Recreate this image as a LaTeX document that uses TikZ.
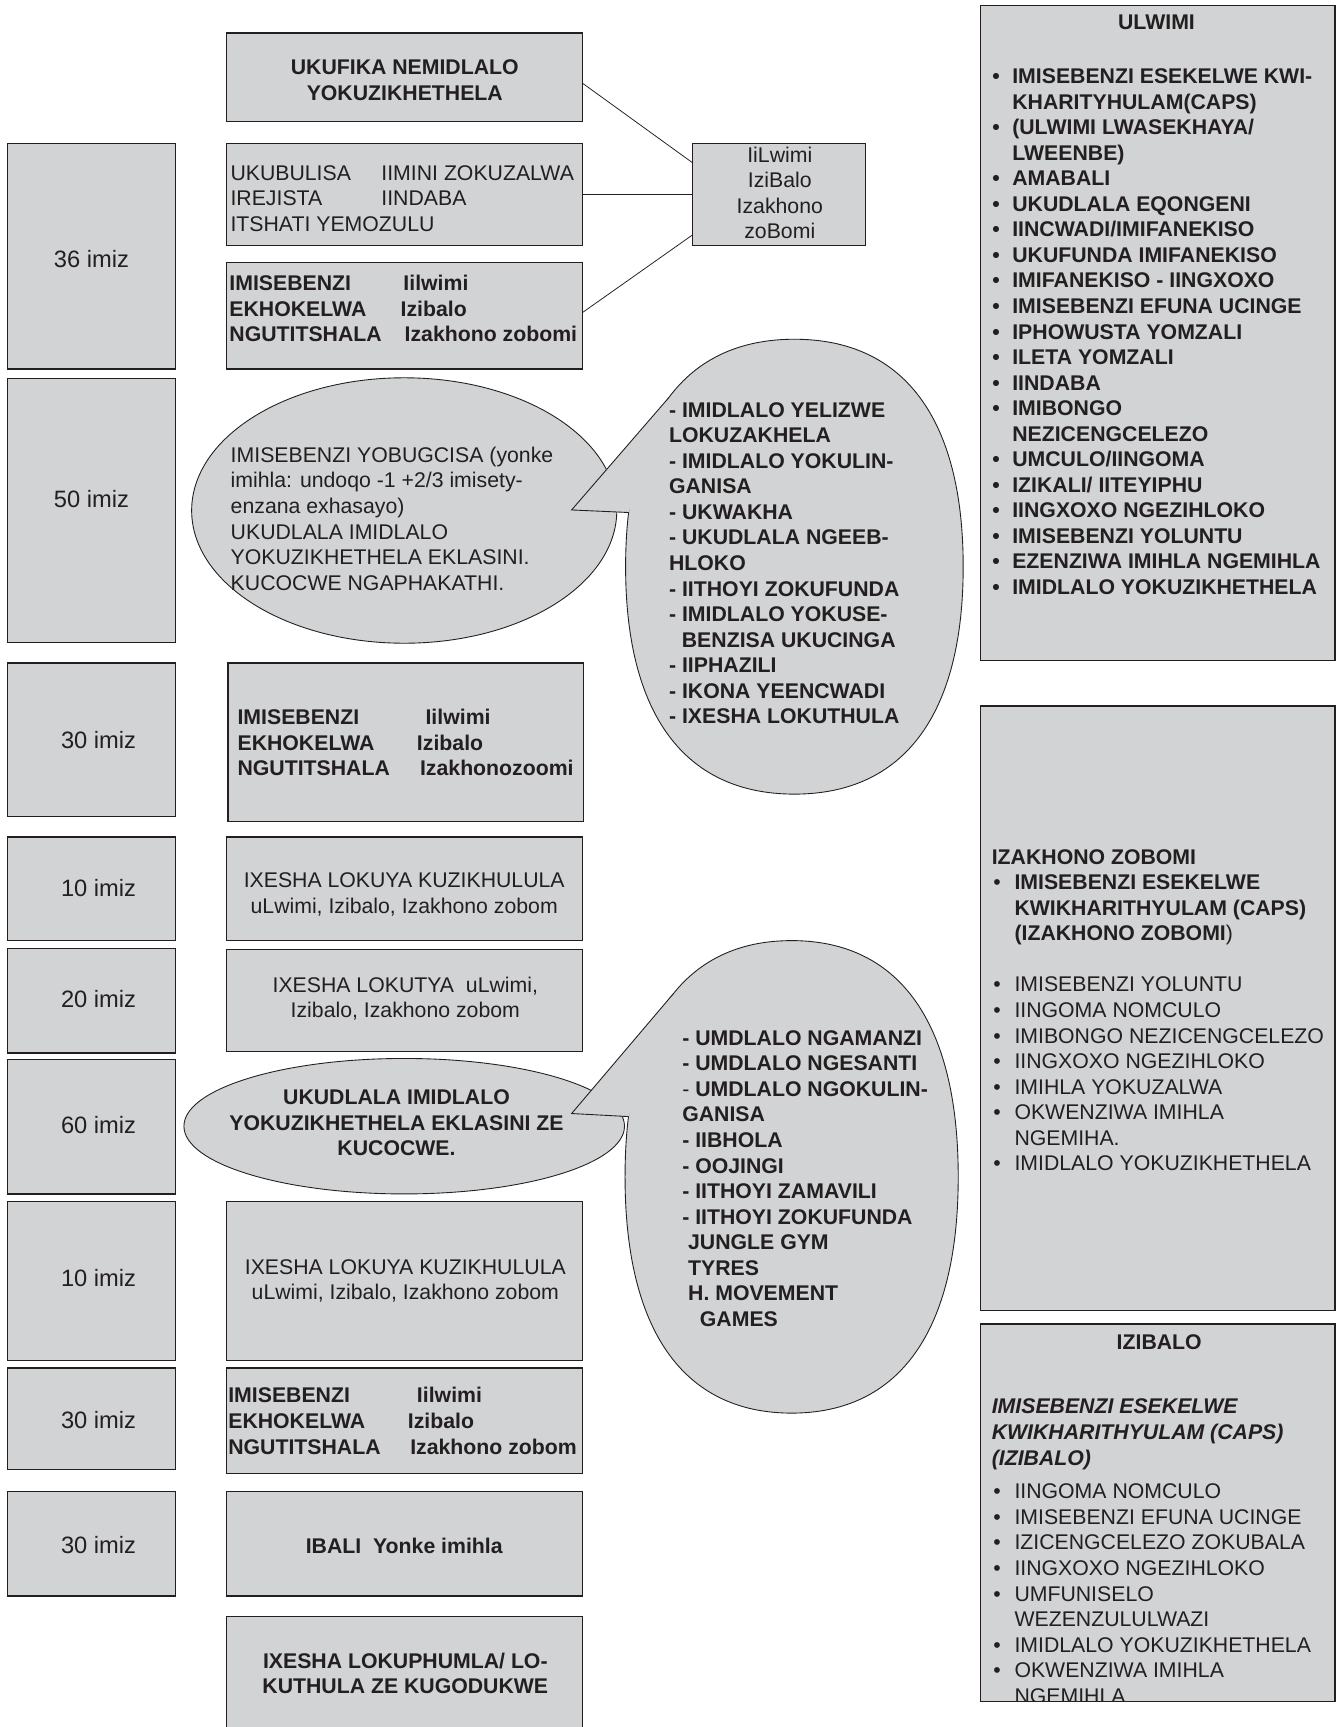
\documentclass[tikz,border=0pt]{standalone}
\usepackage{fontspec}
\setmainfont{Liberation Sans}
\usetikzlibrary{shapes.geometric}
\definecolor{boxgray}{RGB}{209,211,212}
\definecolor{ink}{RGB}{35,31,32}
\newcommand\fs{\fontsize{19.3pt}{23.2pt}\selectfont}
\newcommand\fl{\fontsize{21.5pt}{25pt}\selectfont}
\newcommand\Ltab[1]{\begin{tabular}[t]{@{}l@{}}#1\end{tabular}}
\newcommand\Ctab[1]{\begin{tabular}[t]{@{}c@{}}#1\end{tabular}}
\newcommand\Btab[2]{\begin{tabular}[t]{@{}l@{\hspace{#1}}l@{}}#2\end{tabular}}
\begin{document}
\begin{tikzpicture}[x=1pt,y=-1pt,
 box/.style={rectangle, draw=ink, line width=1.1pt, fill=boxgray, inner sep=0pt, outer sep=0pt},
 oval/.style={ellipse, draw=ink, line width=0.8pt, fill=boxgray, inner sep=0pt, outer sep=0pt},
 bub/.style={draw=ink, line width=0.8pt, fill=boxgray},
 tailedge/.style={draw=ink, line width=0.8pt, line join=miter},
 conn/.style={draw=ink, line width=0.7pt},
 txt/.style={inner sep=0pt, outer sep=0pt, text=ink, font=\fs},
 btxt/.style={txt, font=\fs\bfseries},
 ltxt/.style={txt, font=\fl, anchor=base},
]
\useasboundingbox (0,0) rectangle (1216,1568);
\fill[white] (0,0) rectangle (1216,1568);

% ---------- left column: time boxes
\node[box, minimum width=152pt, minimum height=205pt] (t36)  at (83,232.5) {};
\node[box, minimum width=152pt, minimum height=239pt] (t50)  at (83,463.5) {};
\node[box, minimum width=152pt, minimum height=139pt] (t30a) at (83,671.5) {};
\node[box, minimum width=152pt, minimum height=94pt]  (t10a) at (83,807) {};
\node[box, minimum width=152pt, minimum height=95pt]  (t20)  at (83,908.5) {};
\node[box, minimum width=152pt, minimum height=122pt] (t60)  at (83,1023) {};
\node[box, minimum width=152pt, minimum height=144pt] (t10b) at (83,1163) {};
\node[box, minimum width=152pt, minimum height=92pt]  (t30b) at (83,1288) {};
\node[box, minimum width=152pt, minimum height=95pt]  (t30c) at (83,1401.5) {};

\node[ltxt] (l36)  at (83,243.2)   {36 imiz};
\node[ltxt] (l50)  at (83,460.7)   {50 imiz};
\node[ltxt] (l30a) at (89.5,679.7) {30 imiz};
\node[ltxt] (l10a) at (89.5,813.7) {10 imiz};
\node[ltxt] (l20)  at (89.5,914.7) {20 imiz};
\node[ltxt] (l60)  at (89.5,1028.7){60 imiz};
\node[ltxt] (l10b) at (89.5,1167.7){10 imiz};
\node[ltxt] (l30b) at (89.5,1296.7){30 imiz};
\node[ltxt] (l30c) at (89.5,1410.7){30 imiz};

% ---------- middle column boxes
\node[box, minimum width=323pt, minimum height=80pt]  (ukufika) at (367.5,70) {};
\node[box, minimum width=323pt, minimum height=93pt]  (bulisa)  at (367.5,176.5) {};
\node[box, minimum width=323pt, minimum height=97pt]  (imis1)   at (367.5,286.5) {};
\node[box, minimum width=323pt, minimum height=144pt] (imis2)   at (368.5,674) {};
\node[box, minimum width=323pt, minimum height=94pt]  (khul1)   at (367.5,807) {};
\node[box, minimum width=323pt, minimum height=93pt]  (kutya)   at (367.5,908.5) {};
\node[box, minimum width=323pt, minimum height=144pt] (khul2)   at (367.5,1163) {};
\node[box, minimum width=323pt, minimum height=96pt]  (imis3)   at (367.5,1290) {};
\node[box, minimum width=323pt, minimum height=95pt]  (ibali)   at (367.5,1401.5) {};
\node[box, minimum width=323pt, minimum height=122pt] (phumla)  at (367.5,1529) {};

% small subject box
\node[box, minimum width=157pt, minimum height=93pt] (lang) at (707.5,176.5) {};

% connectors
\draw[conn] (ukufika.-2.5) -- (lang.160.7);
\draw[conn] (bulisa.east) -- (lang.west);
\draw[conn] (imis1.1.5) -- (lang.205.2);

% ---------- right column boxes
\node[box, minimum width=322pt, minimum height=595pt] (ulwimi)  at (1051,302.5) {};
\node[box, minimum width=322pt, minimum height=549pt] (zakhono) at (1051,915.5) {};
\node[box, minimum width=322pt, minimum height=343pt] (zibalo)  at (1051,1373.5) {};

% ---------- ellipse 1 and speech bubble 1
\node[oval, minimum width=386pt, minimum height=241pt] (ell1) at (367,463.5) {};
\coordinate (b1tip) at (519,463);
\path[bub] (721.25,308) .. controls (621.65,308) and (568,380.3) ..
    coordinate[pos=0.5] (b1A) coordinate[pos=0.87] (b1B) (568,514.5)
  .. controls (568,648.7) and (621.65,721) .. (721.25,721)
  .. controls (820.85,721) and (874.5,648.7) .. (874.5,514.5)
  .. controls (874.5,380.3) and (820.85,308) .. (721.25,308) -- cycle;
\fill[boxgray] (b1tip) -- (b1A) -- (b1B) -- cycle;
\draw[tailedge] (b1A) -- (b1tip) -- (b1B);

% ---------- ellipse 2 and speech bubble 2
\node[oval, minimum width=400pt, minimum height=123pt] (ell2) at (367,1022.5) {};
\coordinate (b2tip) at (519,1011);
\path[bub] (718.75,854) .. controls (620.45,854) and (567.5,929.1) ..
    coordinate[pos=0.47] (b2A) coordinate[pos=0.86] (b2B) (567.5,1068.5)
  .. controls (567.5,1207.9) and (620.45,1283) .. (718.75,1283)
  .. controls (817.05,1283) and (870,1207.9) .. (870,1068.5)
  .. controls (870,929.1) and (817.05,854) .. (718.75,854) -- cycle;
\fill[boxgray] (b2tip) -- (b2A) -- (b2B) -- cycle;
\draw[tailedge] (b2A) -- (b2tip) -- (b2B);

% ---------- middle texts
\node[btxt, anchor=base] (ukufikaT) at (367.5,67.8) {\Ctab{UKUFIKA NEMIDLALO\\YOKUZIKHETHELA}};

\node[txt, anchor=base west] (bulisaA) at (209.3,163.8) {\Ltab{UKUBULISA\\IREJISTA\\ITSHATI YEMOZULU}};
\node[txt, anchor=base west] (bulisaB) at (346.3,163.8) {\Ltab{IIMINI ZOKUZALWA\\IINDABA}};

\node[btxt, anchor=base west] (imis1A) at (208.3,263.8) {\Ltab{IMISEBENZI\\EKHOKELWA\\NGUTITSHALA}};
\node[btxt, anchor=base west] (imis1B) at (366.3,263.8) {Iilwimi};
\node[btxt, anchor=base west] (imis1C) at (363.8,287) {Izibalo};
\node[btxt, anchor=base west] (imis1D) at (367.4,310.2) {Izakhono zobomi};

\node[txt, anchor=base] (langT) at (708,147.3) {\Ctab{IiLwimi\\IziBalo\\Izakhono\\zoBomi}};

\node[txt, anchor=base west] (ell1T) at (209.5,419.8) {\Ltab{IMISEBENZI YOBUGCISA (yonke\\imihla: undoqo -1 +2/3 imisety-\\enzana exhasayo)\\UKUDLALA IMIDLALO\\YOKUZIKHETHELA EKLASINI.\\KUCOCWE NGAPHAKATHI.}};

\node[btxt, anchor=base west] (imis2A) at (215.7,657.8) {\Ltab{IMISEBENZI\\EKHOKELWA\\NGUTITSHALA}};
\node[btxt, anchor=base west] (imis2B) at (386.4,657.8) {Iilwimi};
\node[btxt, anchor=base west] (imis2C) at (378.6,681) {Izibalo};
\node[btxt, anchor=base west] (imis2D) at (381.4,704.2) {Izakhonozoomi};

\node[txt, anchor=base] (khul1T) at (367,805.8) {\Ctab{IXESHA LOKUYA KUZIKHULULA\\uLwimi, Izibalo, Izakhono zobom}};
\node[txt, anchor=base] (kutyaT) at (368,900.8) {\Ctab{IXESHA LOKUTYA\ \ uLwimi,\\Izibalo, Izakhono zobom}};

\node[btxt, anchor=base] (ell2T) at (360,1002.8) {\Ctab{UKUDLALA IMIDLALO\\YOKUZIKHETHELA EKLASINI ZE\\KUCOCWE.}};

\node[txt, anchor=base] (khul2T) at (368,1156.8) {\Ctab{IXESHA LOKUYA KUZIKHULULA\\uLwimi, Izibalo, Izakhono zobom}};

\node[btxt, anchor=base west] (imis3A) at (207.3,1273.8) {\Ltab{IMISEBENZI\\EKHOKELWA\\NGUTITSHALA}};
\node[btxt, anchor=base west] (imis3B) at (378.6,1273.8) {Iilwimi};
\node[btxt, anchor=base west] (imis3C) at (370.3,1297) {Izibalo};
\node[btxt, anchor=base west] (imis3D) at (372.5,1320.2) {Izakhono zobom};

\node[btxt, anchor=base] (ibaliT) at (367,1410.8) {IBALI\ \ Yonke imihla};
\node[btxt, anchor=base] (phumlaT) at (368,1514.8) {\Ctab{IXESHA LOKUPHUMLA/ LO-\\KUTHULA ZE KUGODUKWE}};

% ---------- bubble texts
\node[btxt, anchor=base west] (b1T) at (607.5,378.8) {\Ltab{- IMIDLALO YELIZWE\\LOKUZAKHELA\\- IMIDLALO YOKULIN-\\GANISA\\- UKWAKHA\\- UKUDLALA NGEEB-\\HLOKO\\- IITHOYI ZOKUFUNDA\\- IMIDLALO YOKUSE-\\\hspace*{11.6pt}BENZISA UKUCINGA\\- IIPHAZILI\\- IKONA YEENCWADI\\- IXESHA LOKUTHULA}};

\node[btxt, anchor=base west] (b2T) at (619.5,949) {\Ltab{- UMDLALO NGAMANZI\\- UMDLALO NGESANTI\\\textmd{-} UMDLALO NGOKULIN-\\GANISA\\- IIBHOLA\\- OOJINGI\\- IITHOYI ZAMAVILI\\- IITHOYI ZOKUFUNDA\\\hspace*{5.3pt}JUNGLE GYM\\\hspace*{5.3pt}TYRES\\\hspace*{5.3pt}H. MOVEMENT\\\hspace*{16pt}GAMES}};

% ---------- right column texts
\node[btxt, anchor=base] (ulT) at (1050,26.8) {ULWIMI};
\node[btxt, anchor=base west] (ulL) at (901,75.8) {\Btab{11.35pt}{•&IMISEBENZI ESEKELWE KWI-\\&KHARITYHULAM(CAPS)\\•&(ULWIMI LWASEKHAYA/\\&LWEENBE)\\•&AMABALI\\•&UKUDLALA EQONGENI\\•&IINCWADI/IMIFANEKISO\\•&UKUFUNDA IMIFANEKISO\\•&IMIFANEKISO - IINGXOXO\\•&IMISEBENZI EFUNA UCINGE\\•&IPHOWUSTA YOMZALI\\•&ILETA YOMZALI\\•&IINDABA\\•&IMIBONGO\\&NEZICENGCELEZO\\•&UMCULO/IINGOMA\\•&IZIKALI/ IITEYIPHU\\•&IINGXOXO NGEZIHLOKO\\•&IMISEBENZI YOLUNTU\\•&EZENZIWA IMIHLA NGEMIHLA\\•&IMIDLALO YOKUZIKHETHELA}};

\node[btxt, anchor=base west] (zaT) at (900.5,784.8) {IZAKHONO ZOBOMI};
\node[txt, anchor=base west] (zaL) at (902,807.8) {\Btab{12.35pt}{•&\textbf{IMISEBENZI ESEKELWE}\\&\textbf{KWIKHARITHYULAM (CAPS)}\\&\textbf{(IZAKHONO ZOBOMI})\\&\\•&IMISEBENZI YOLUNTU\\•&IINGOMA NOMCULO\\•&IMIBONGO NEZICENGCELEZO\\•&IINGXOXO NGEZIHLOKO\\•&IMIHLA YOKUZALWA\\•&OKWENZIWA IMIHLA\\&NGEMIHA.\\•&IMIDLALO YOKUZIKHETHELA}};

\begin{scope}
\clip (890,1202) rectangle (1212,1545);
\node[btxt, anchor=base] (ziT) at (1052.5,1224.8) {IZIBALO};
\node[txt, anchor=base west, font=\fs\bfseries\itshape] (ziI) at (900.5,1283.8) {\Ltab{IMISEBENZI ESEKELWE\\KWIKHARITHYULAM (CAPS)\\(IZIBALO)}};
\node[txt, anchor=base west] (ziL) at (902,1360.8) {\Btab{12.35pt}{•&IINGOMA NOMCULO\\•&IMISEBENZI EFUNA UCINGE\\•&IZICENGCELEZO ZOKUBALA\\•&IINGXOXO NGEZIHLOKO\\•&UMFUNISELO\\&WEZENZULULWAZI\\•&IMIDLALO YOKUZIKHETHELA\\•&OKWENZIWA IMIHLA\\&NGEMIHLA}};
\end{scope}
\draw[ink, line width=1.1pt] (zibalo.south west) -- (zibalo.south east);

\end{tikzpicture}
\end{document}
